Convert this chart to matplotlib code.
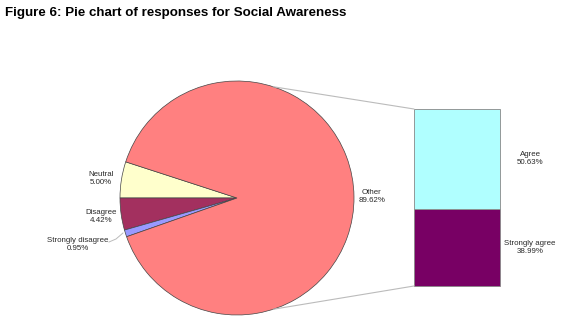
import numpy as np
import matplotlib.pyplot as plt
from matplotlib.patches import ConnectionPatch

plt.rcParams['font.family'] = ['Liberation Sans', 'DejaVu Sans']

# pie part
pie_labels = ["Neutral", "Disagree", "Strongly disagree", "Other"]
pie_values = [5.00, 4.42, 0.95, 89.62]
pie_colors = ["#FFFFCC", "#A3305F", "#9999FF", "#FF8080"]

# bar part (breakdown of "Other")
bar_labels = ["Strongly agree", "Agree"]
bar_values = [38.99, 50.63]
bar_colors = ["#780064", "#B0FFFF"]

W, H = 580, 323
fig = plt.figure(figsize=(W / 100, H / 100), dpi=100)
ax = fig.add_axes([0, 0, 1, 1])

cx, cy, r = 237, H - 198, 117
ax.pie(pie_values, colors=pie_colors, startangle=162,
       counterclock=True, center=(cx, cy), radius=r,
       wedgeprops=dict(edgecolor="#444444", linewidth=0.5),
       frame=True)
ax.set_xlim(0, W)
ax.set_ylim(0, H)
ax.set_aspect("equal")
ax.axis("off")

fig.text(0.009, 1 - 13 / H, "Figure 6: Pie chart of responses for Social Awareness",
         fontsize=9.6, fontweight="bold", va="center", ha="left")

lab_fs = 5.7
txt = "#2a2a2a"
label_pos = [(101, 178), (101, 216), (78, 245), (372, 197)]
for lab, v, (x, y) in zip(pie_labels, pie_values, label_pos):
    ax.text(x, H - y, f"{lab}\n{v:.2f}%", ha="center", va="center",
            fontsize=lab_fs, color=txt)
# leader line for the small slice
ax.plot([109, 116, 123], [H - 242, H - 239, H - 233], color="#BBBBBB", lw=0.7)

# bar of pie
bx0, by0, bw, bh = 414, 286, 86, 177
bax = fig.add_axes([bx0 / W, (H - by0) / H, bw / W, bh / H])
bottom = 0
for lab, v, c in zip(bar_labels, bar_values, bar_colors):
    bars = bax.bar(0, v, width=1, bottom=bottom, color=c, edgecolor="#888888",
                   linewidth=0.6)
    for b in bars:
        b.set_clip_on(False)
    bax.text(0.85, bottom + v / 2, f"{lab}\n{v:.2f}%", ha="center",
             va="center", fontsize=lab_fs, color=txt, clip_on=False)
    bottom += v
bax.set_xlim(-0.5, 0.5)
bax.set_ylim(0, sum(bar_values))
bax.axis("off")

# connector lines
ang = np.deg2rad(72)
for sign, corner in [(1, (0, 1)), (-1, (0, 0))]:
    p = (cx + r * np.cos(ang), cy + sign * r * np.sin(ang))
    con = ConnectionPatch(xyA=p, coordsA=ax.transData, xyB=corner,
                          coordsB=bax.transAxes, color="#BBBBBB", lw=0.8)
    fig.add_artist(con)

fig.savefig("out.png", dpi=100)
